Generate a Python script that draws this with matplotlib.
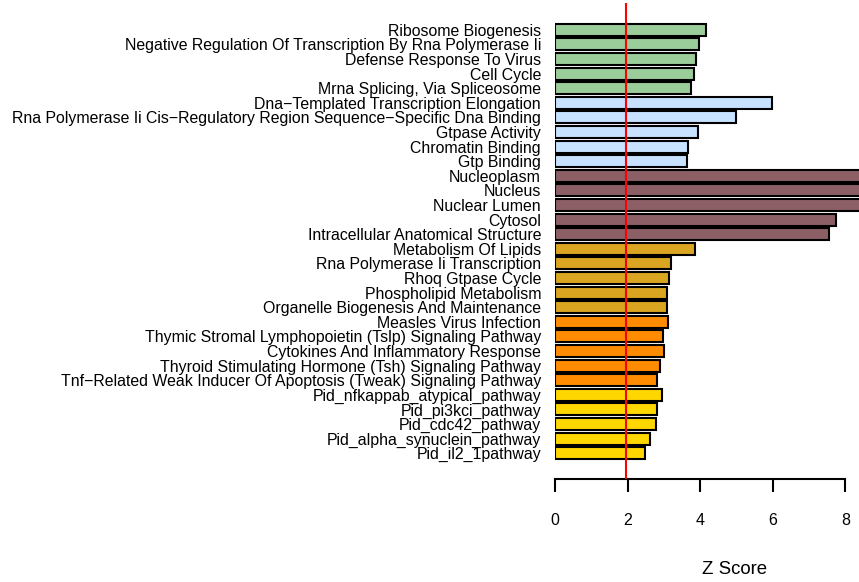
import matplotlib
matplotlib.use("Agg")
import matplotlib.pyplot as plt

plt.rcParams["font.family"] = ["Liberation Sans", "DejaVu Sans"]

# terms, top to bottom
terms = [
    "Ribosome Biogenesis",
    "Negative Regulation Of Transcription By Rna Polymerase Ii",
    "Defense Response To Virus",
    "Cell Cycle",
    "Mrna Splicing, Via Spliceosome",
    "Dna\u2212Templated Transcription Elongation",
    "Rna Polymerase Ii Cis\u2212Regulatory Region Sequence\u2212Specific Dna Binding",
    "Gtpase Activity",
    "Chromatin Binding",
    "Gtp Binding",
    "Nucleoplasm",
    "Nucleus",
    "Nuclear Lumen",
    "Cytosol",
    "Intracellular Anatomical Structure",
    "Metabolism Of Lipids",
    "Rna Polymerase Ii Transcription",
    "Rhoq Gtpase Cycle",
    "Phospholipid Metabolism",
    "Organelle Biogenesis And Maintenance",
    "Measles Virus Infection",
    "Thymic Stromal Lymphopoietin (Tslp) Signaling Pathway",
    "Cytokines And Inflammatory Response",
    "Thyroid Stimulating Hormone (Tsh) Signaling Pathway",
    "Tnf\u2212Related Weak Inducer Of Apoptosis (Tweak) Signaling Pathway",
    "Pid_nfkappab_atypical_pathway",
    "Pid_pi3kci_pathway",
    "Pid_cdc42_pathway",
    "Pid_alpha_synuclein_pathway",
    "Pid_il2_1pathway",
]

zscores = [
    4.15, 3.98, 3.88, 3.83, 3.76,
    5.99, 4.98, 3.95, 3.66, 3.63,
    10.5, 10.0, 9.5, 7.75, 7.54,
    3.86, 3.20, 3.15, 3.09, 3.09,
    3.10, 2.98, 2.99, 2.89, 2.82,
    2.95, 2.80, 2.79, 2.62, 2.49,
]

# one colour per group of five terms
group_colors = ["#9BCD9B", "#C6E2FF", "#8B5F65", "#DAA520", "#FF8C00", "#FFD700"]
colors = [c for c in group_colors for _ in range(5)]

threshold = 1.96

W, H = 859, 582
fig = plt.figure(figsize=(W / 100, H / 100), dpi=100)

# axes placed in pixels: x=0 at 555px, plot area from y=3px to y=479px
left, right, top, bottom = 555, 859, 3, 479
ax = fig.add_axes([left / W, 1 - bottom / H, (right - left) / W, (bottom - top) / H])

pos = list(range(len(terms)))
ax.barh(pos, zscores, height=0.82, color=colors, edgecolor="black", linewidth=1.5)
ax.axvline(threshold, color="red", linewidth=1.5, zorder=3)

ax.set_xlim(0, (right - left) / 36.3)
ax.set_ylim(29 + 1.76, -1.83)

ax.set_yticks(pos)
ax.set_yticklabels(terms, fontsize=11.45)
ax.tick_params(axis="y", length=0, pad=10)

for s in ["left", "right", "top"]:
    ax.spines[s].set_visible(False)
ax.spines["bottom"].set_bounds(0, 8)
ax.spines["bottom"].set_linewidth(1.5)
ax.set_xticks([0, 2, 4, 6, 8])
ax.tick_params(axis="x", length=9.4, width=1.5, pad=15, labelsize=11.5)

fig.text(735 / W, 1 - 570 / H, "Z Score", ha="center", va="center", fontsize=13.4)

fig.savefig("out.png", dpi=100)
